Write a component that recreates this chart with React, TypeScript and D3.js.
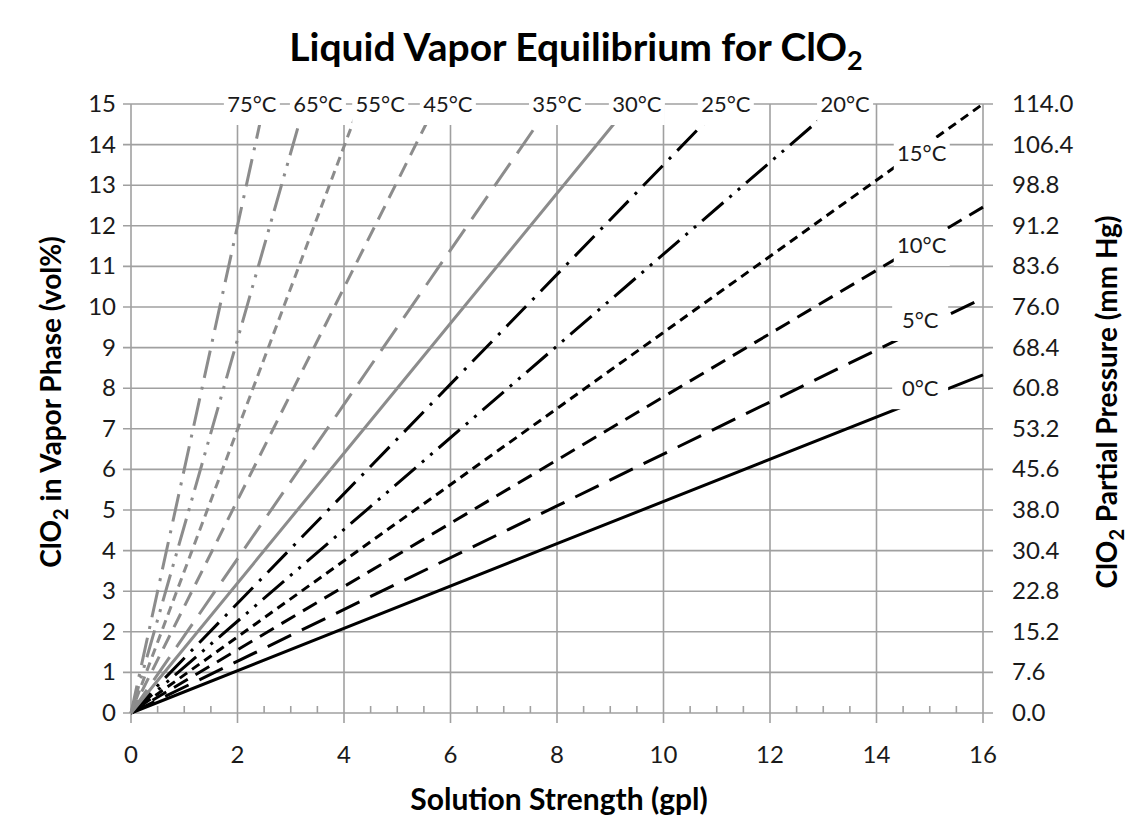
import React from "react";
import * as d3 from "d3";

// solution strength (gpl) vs ClO2 in vapour (vol%)
const series0 = [[0, 0], [8, 4.17], [16, 8.33]];
const series5 = [[0, 0], [8, 5.1], [16, 10.22]];
const series10 = [[0, 0], [8, 6.23], [16, 12.46]];
const series15 = [[0, 0], [8, 7.5], [16, 15]];
const series20 = [[0, 0], [8, 9.04], [13.27, 15]];
const series25 = [[0, 0], [6, 8.1], [11.11, 15]];
const series30 = [[0, 0], [5, 8.0], [9.375, 15]];
const series35 = [[0, 0], [4, 7.6], [7.89, 15]];
const series45 = [[0, 0], [3, 7.86], [5.73, 15]];
const series55 = [[0, 0], [2, 6.98], [4.3, 15]];
const series65 = [[0, 0], [2, 9.2], [3.26, 15]];
const series75 = [[0, 0], [1, 6.0], [2.5, 15]];

const seriesNames = ["0°C", "5°C", "10°C", "15°C", "20°C", "25°C", "30°C", "35°C", "45°C", "55°C", "65°C", "75°C"];
const seriesData = [series0, series5, series10, series15, series20, series25, series30, series35, series45, series55, series65, series75];

// where each temperature label sits (gpl, vol%)
const labelSpots = [
    [14.82, 8.0], [14.82, 9.68], [14.85, 11.53], [14.85, 13.79],
    [13.41, 15], [11.17, 15], [9.5, 15], [8.0, 15],
    [5.95, 15], [4.68, 15], [3.51, 15], [2.27, 15],
];

const xTicks = [0, 2, 4, 6, 8, 10, 12, 14, 16];
const yTicks = [0, 1, 2, 3, 4, 5, 6, 7, 8, 9, 10, 11, 12, 13, 14, 15];
const rightLabels = ["0.0", "7.6", "15.2", "22.8", "30.4", "38.0", "45.6", "53.2", "60.8", "68.4", "76.0", "83.6", "91.2", "98.8", "106.4", "114.0"];

const BLACK = "#000";
const GREY = "#8c8c8c";
const GRID = "#a0a0a0";
const INK = "#1a1a1a";
const FONT = "Lato, 'Open Sans', sans-serif";

const styles: { color: string; dash: string }[] = [
    { color: BLACK, dash: "" },
    { color: BLACK, dash: "26 12" },
    { color: BLACK, dash: "16 9" },
    { color: BLACK, dash: "9 6" },
    { color: BLACK, dash: "28 8 3 8 3 8" },
    { color: BLACK, dash: "28 9 3 9" },
    { color: GREY, dash: "" },
    { color: GREY, dash: "28 12" },
    { color: GREY, dash: "15 9" },
    { color: GREY, dash: "9 6" },
    { color: GREY, dash: "28 8 3 8 3 8" },
    { color: GREY, dash: "28 9 3 9" },
];

export default function App() {
    const width = 1133;
    const height = 831;
    const x = d3.scaleLinear().domain([0, 16]).range([131, 983]);
    const y = d3.scaleLinear().domain([0, 15]).range([713, 104]);
    const line = d3.line<number[]>().x(d => x(d[0])).y(d => y(d[1]));
    const minor = d3.range(0, 16.01, 0.5).filter(v => v % 2 !== 0);
    const midY = 402;

    return (
        <svg width={width} height={height} style={{ position: "absolute", left: 0, top: 0, background: "#fff" }}>
            <text x={576} y={61} textAnchor="middle" fontFamily={FONT} fontWeight="bold" fontSize={39} fill="#000">
                Liquid Vapor Equilibrium for ClO<tspan dy={9} fontSize={27}>2</tspan>
            </text>

            {/* grid */}
            {yTicks.map(t => (
                <line key={"h" + t} x1={123} x2={993} y1={y(t)} y2={y(t)} stroke={GRID} strokeWidth={1.6} />
            ))}
            {xTicks.map(t => (
                <line key={"v" + t} x1={x(t)} x2={x(t)} y1={y(15)} y2={723} stroke={GRID} strokeWidth={1.6} />
            ))}
            {minor.map(t => (
                <line key={"m" + t} x1={x(t)} x2={x(t)} y1={y(0) - 7} y2={y(0)} stroke={GRID} strokeWidth={1.6} />
            ))}

            {/* curves */}
            {seriesData.map((s, i) => (
                <path key={seriesNames[i]} d={line(s) ?? ""} fill="none" stroke={styles[i].color}
                    strokeWidth={3} strokeDasharray={styles[i].dash} />
            ))}

            {/* temperature labels */}
            {labelSpots.map((p, i) => (
                <g key={"l" + i}>
                    <rect x={x(p[0]) - 28} y={y(p[1]) - 15} width={56} height={36} fill="#fff" />
                    <text x={x(p[0])} y={y(p[1]) + 8} textAnchor="middle" fontFamily={FONT} fontSize={22} fill={INK}>
                        {seriesNames[i]}
                    </text>
                </g>
            ))}

            {/* tick labels */}
            {xTicks.map(t => (
                <text key={"xt" + t} x={x(t)} y={763} textAnchor="middle" fontFamily={FONT} fontSize={24} fill={INK}>{t}</text>
            ))}
            {yTicks.map(t => (
                <text key={"yt" + t} x={116} y={y(t) + 8} textAnchor="end" fontFamily={FONT} fontSize={24} fill={INK}>{t}</text>
            ))}
            {yTicks.map((t, i) => (
                <text key={"rt" + t} x={1012} y={y(t) + 8} textAnchor="start" fontFamily={FONT} fontSize={24} fill={INK}>{rightLabels[i]}</text>
            ))}

            {/* axis titles */}
            <text x={559} y={810} textAnchor="middle" fontFamily={FONT} fontWeight="bold" fontSize={30} fill="#000">
                Solution Strength (gpl)
            </text>
            <text transform={`translate(61,${midY}) rotate(-90)`} textAnchor="middle" fontFamily={FONT} fontWeight="bold" fontSize={28} fill="#000">
                ClO<tspan dy={7} fontSize={20}>2</tspan><tspan dy={-7}> in Vapor Phase (vol%)</tspan>
            </text>
            <text transform={`translate(1117,${midY}) rotate(-90)`} textAnchor="middle" fontFamily={FONT} fontWeight="bold" fontSize={28} fill="#000">
                ClO<tspan dy={7} fontSize={20}>2</tspan><tspan dy={-7}> Partial Pressure (mm Hg)</tspan>
            </text>
        </svg>
    );
}
